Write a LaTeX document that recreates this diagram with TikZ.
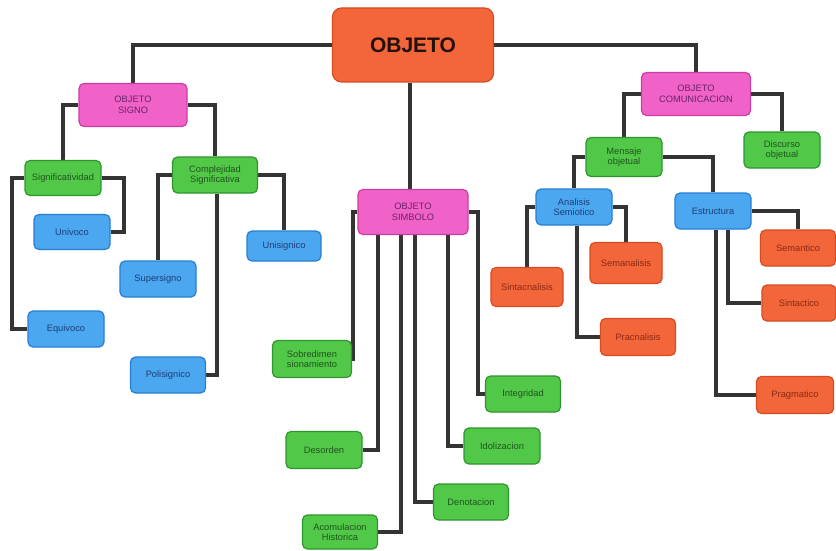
\documentclass[tikz,border=0pt]{standalone}
\usepackage{fontspec}
\setmainfont{Liberation Sans}
\usetikzlibrary{backgrounds}
\definecolor{orf}{RGB}{242,102,58}
\definecolor{ord}{RGB}{215,75,35}
\definecolor{ort}{RGB}{140,40,20}
\definecolor{pkf}{RGB}{240,98,200}
\definecolor{pkd}{RGB}{205,60,165}
\definecolor{pkt}{RGB}{105,35,105}
\definecolor{grf}{RGB}{82,200,72}
\definecolor{grd}{RGB}{45,150,45}
\definecolor{grt}{RGB}{30,85,30}
\definecolor{blf}{RGB}{75,168,240}
\definecolor{bld}{RGB}{40,125,215}
\definecolor{blt}{RGB}{30,60,120}
\definecolor{lnc}{RGB}{52,52,52}
\tikzset{
  box/.style={rounded corners=5pt, line width=1.2pt, align=center, inner sep=2pt, font=\fontsize{9.3}{10.5}\selectfont},
  orbox/.style={box, fill=orf, draw=ord, text=ort},
  pkbox/.style={box, fill=pkf, draw=pkd, text=pkt},
  grbox/.style={box, fill=grf, draw=grd, text=grt},
  blbox/.style={box, fill=blf, draw=bld, text=blt},
  conn/.style={draw=lnc, line width=4pt},
  sz/.style 2 args={minimum width=#1, minimum height=#2}
}
\begin{document}
\begin{tikzpicture}[x=1pt,y=-1pt]
\useasboundingbox (0,0) rectangle (836,551);
% top
\node[orbox, sz={161pt}{74pt}, rounded corners=9pt, font=\fontsize{21}{24}\selectfont\bfseries, text=black!85!orf] (obj) at (413,45) {OBJETO};
\node[pkbox, sz={108pt}{43pt}] (signo) at (133,105) {OBJETO\\SIGNO};
\node[pkbox, sz={109pt}{43pt}] (com) at (696,94) {OBJETO\\COMUNICACION};
\node[pkbox, sz={110pt}{45pt}] (simb) at (413,212) {OBJETO\\SIMBOLO};
% signo branch
\node[grbox, sz={76pt}{35pt}] (sigf) at (63,178) {Significatividad};
\node[grbox, sz={85pt}{36pt}] (comp) at (215,175) {Complejidad\\Significativa};
\node[blbox, sz={76pt}{35pt}] (univ) at (72,232) {Univoco};
\node[blbox, sz={74pt}{30pt}] (unis) at (284,246) {Unisignico};
\node[blbox, sz={76pt}{36pt}] (supe) at (158,279) {Supersigno};
\node[blbox, sz={76pt}{36pt}] (equi) at (66,329) {Equivoco};
\node[blbox, sz={75pt}{36pt}] (poli) at (168,375) {Polisignico};
% simbolo branch
\node[grbox, sz={79pt}{37pt}] (sobr) at (312,359) {Sobredimen\\sionamiento};
\node[grbox, sz={76pt}{37pt}] (deso) at (324,450) {Desorden};
\node[grbox, sz={75pt}{34pt}] (acom) at (340,532) {Acomulacion\\Historica};
\node[grbox, sz={75pt}{36pt}] (inte) at (523,394) {Integridad};
\node[grbox, sz={76pt}{36pt}] (idol) at (502,446) {Idolizacion};
\node[grbox, sz={75pt}{36pt}] (deno) at (471,502) {Denotacion};
% comunicacion branch
\node[grbox, sz={76pt}{39pt}] (mens) at (624,157) {Mensaje\\objetual};
\node[grbox, sz={76pt}{36pt}] (disc) at (782,150) {Discurso\\objetual};
\node[blbox, sz={76pt}{36pt}] (anal) at (574,207) {Analisis\\Semiotico};
\node[blbox, sz={76pt}{36pt}] (estr) at (713,211) {Estructura};
\node[orbox, sz={72pt}{39pt}] (sinta) at (527,287) {Sintacnalisis};
\node[orbox, sz={72pt}{41pt}] (sema) at (626,263) {Semanalisis};
\node[orbox, sz={75pt}{37pt}] (prac) at (638,337) {Pracnalisis};
\node[orbox, sz={75pt}{36pt}] (semt) at (798,248) {Semantico};
\node[orbox, sz={74pt}{36pt}] (sint) at (799,303) {Sintactico};
\node[orbox, sz={77pt}{37pt}] (prag) at (795,395) {Pragmatico};
\begin{pgfonlayer}{background}
\fill[white] (0,0) rectangle (836,551);
\path[conn] (obj.west) -| (signo.north);
\path[conn] (obj.east) -| (com.north);
\path[conn] ([xshift=-3pt]obj.south) -- ([xshift=-3pt]simb.north);
\path[conn] (signo.west) -| (sigf.north);
\path[conn] (signo.east) -| (comp.north);
\path[conn] (sigf.west) -- ++(-12,0) |- (equi.west);
\path[conn] (sigf.east) -- ++(22,0) |- (univ.east);
\path[conn] (comp.west) -| (supe.north);
\path[conn] (comp.east) -| (unis.north);
\path[conn] ([xshift=2pt]comp.south) |- (poli.east);
\path[conn] (simb.west) -- ++(-4,0) |- (sobr.east);
\path[conn] ([xshift=-35pt]simb.south) |- (deso.east);
\path[conn] ([xshift=-12pt]simb.south) |- (acom.east);
\path[conn] ([xshift=2pt]simb.south) |- (deno.west);
\path[conn] ([xshift=35pt]simb.south) |- (idol.west);
\path[conn] (simb.east) -- ++(9,0) |- (inte.west);
\path[conn] (com.west) -| (mens.north);
\path[conn] (com.east) -| (disc.north);
\path[conn] (mens.west) -| (anal.north);
\path[conn] (mens.east) -| (estr.north);
\path[conn] (anal.west) -| (sinta.north);
\path[conn] (anal.east) -| (sema.north);
\path[conn] ([xshift=3pt]anal.south) |- (prac.west);
\path[conn] (estr.east) -| (semt.north);
\path[conn] ([xshift=15pt]estr.south) |- (sint.west);
\path[conn] ([xshift=3pt]estr.south) |- (prag.west);
\end{pgfonlayer}
\end{tikzpicture}
\end{document}
